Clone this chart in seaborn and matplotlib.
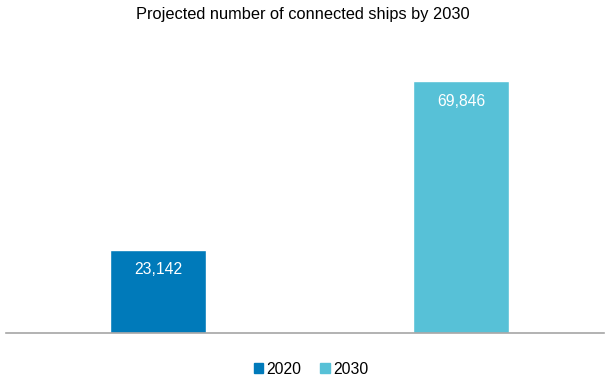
import matplotlib
matplotlib.use('Agg')
import matplotlib.pyplot as plt
from matplotlib.patches import Patch
import pandas
import seaborn as sns

years = ['2020', '2030']
ships = [23142, 69846]
colors = ['#007ABA', '#57C1D7']

sns.set_style('white')
plt.rcParams['font.family'] = ['Liberation Sans', 'DejaVu Sans']
plt.rcParams['text.color'] = 'black'

data = pandas.DataFrame({'year': years, 'ships': ships})

fig = plt.figure(figsize=(6.05, 3.82), dpi=100)
ax = fig.add_axes([6 / 605, 1 - 333 / 382, 598 / 605, (333 - 47) / 382])
sns.barplot(data=data, x='year', y='ships', hue='year', palette=colors,
            width=0.317, saturation=1, legend=False, ax=ax)

for container in ax.containers:
    ax.bar_label(container, fmt='{:,.0f}', padding=-20, color='white', fontsize=11.3)

ax.set_xlim(-0.502, 1.472)
ax.set_ylim(0, 79300)
ax.set_xlabel('')
ax.set_ylabel('')
ax.set_xticks([])
ax.set_yticks([])
for side in ['top', 'left', 'right']:
    ax.spines[side].set_visible(False)
ax.spines['bottom'].set_color('#a6a6a6')
ax.spines['bottom'].set_linewidth(1.2)

fig.suptitle('Projected number of connected ships by 2030', fontsize=11.8,
             y=1 - 15 / 382, va='center', color='black')

handles = [Patch(color=c, label=y) for y, c in zip(years, colors)]
fig.legend(handles=handles, loc='center', bbox_to_anchor=(311 / 605, 1 - 369 / 382), ncol=2,
           frameon=False, fontsize=11.3, handlelength=0.6, handleheight=0.6,
           handletextpad=0.2, columnspacing=1.2, labelcolor='black')

fig.savefig('out.png', dpi=100)
